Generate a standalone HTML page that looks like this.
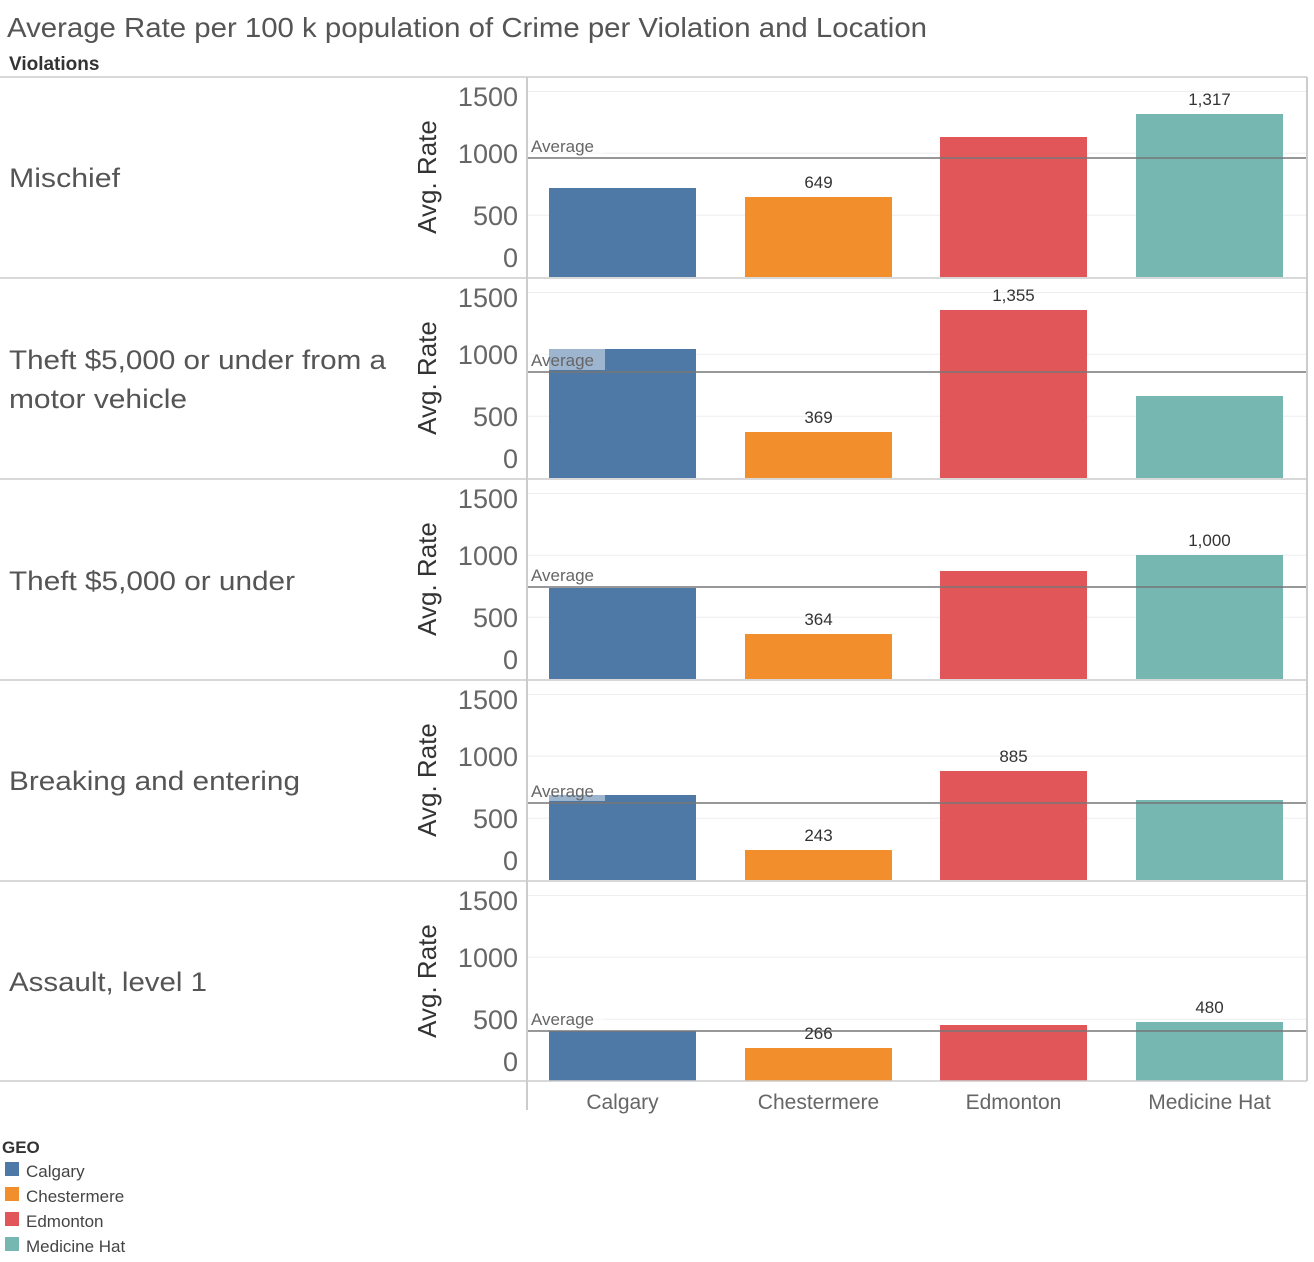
<!DOCTYPE html>
<html><head><meta charset="utf-8"><style>body{margin:0;background:#fff}svg{display:block;font-family:"Liberation Sans",sans-serif}</style></head><body>
<svg width="1314" height="1262" viewBox="0 0 1314 1262" xmlns="http://www.w3.org/2000/svg">
<defs>
<g id="grid">
<line x1="528" x2="1307" y1="138.2" y2="138.2" stroke="#eee"/>
<line x1="528" x2="1307" y1="76.3" y2="76.3" stroke="#eee"/>
<line x1="528" x2="1307" y1="14.5" y2="14.5" stroke="#eee"/>
<line x1="0" x2="1307" y1="0" y2="0" stroke="#ccc" stroke-width="1.5"/>
<g font-size="27" fill="#666" text-anchor="end">
<text x="518" y="29">1500</text><text x="518" y="86">1000</text><text x="518" y="148">500</text><text x="518" y="190">0</text>
</g>
<text transform="translate(436 100) rotate(-90)" font-size="26" fill="#333" text-anchor="middle">Avg. Rate</text>
</g>
</defs>

<text x="7" y="37" font-size="28" fill="#555" textLength="920" lengthAdjust="spacingAndGlyphs">Average Rate per 100 k population of Crime per Violation and Location</text>
<text x="9" y="70" font-size="19" font-weight="bold" fill="#333">Violations</text>

<!-- Row 1 -->
<g transform="translate(0 77)">
<use href="#grid"/>
<rect x="549" y="111" width="147" height="89" fill="#4e79a7"/>
<rect x="745" y="120" width="147" height="80" fill="#f28e2b"/>
<rect x="940" y="60" width="147" height="140" fill="#e15759"/>
<rect x="1136" y="37" width="147" height="163" fill="#76b7b2"/>
<rect x="528" y="57" width="77" height="22" fill="#fff" fill-opacity="0.45"/>
<line x1="528" x2="1307" y1="81" y2="81" stroke="#777" stroke-width="1.5"/>
<text x="531" y="75" font-size="17" fill="#666">Average</text>
<text x="818.5" y="111" font-size="17" fill="#333" text-anchor="middle">649</text>
<text x="1209.5" y="28" font-size="17" fill="#333" text-anchor="middle">1,317</text>
<text x="9" y="110" font-size="27" fill="#555" textLength="111" lengthAdjust="spacingAndGlyphs">Mischief</text>
</g>

<!-- Row 2 -->
<g transform="translate(0 278)">
<use href="#grid"/>
<rect x="549" y="71" width="147" height="129" fill="#4e79a7"/>
<rect x="745" y="154" width="147" height="46" fill="#f28e2b"/>
<rect x="940" y="32" width="147" height="168" fill="#e15759"/>
<rect x="1136" y="118" width="147" height="82" fill="#76b7b2"/>
<rect x="528" y="70" width="77" height="22" fill="#fff" fill-opacity="0.45"/>
<line x1="528" x2="1307" y1="94" y2="94" stroke="#777" stroke-width="1.5"/>
<text x="531" y="88" font-size="17" fill="#666">Average</text>
<text x="818.5" y="145" font-size="17" fill="#333" text-anchor="middle">369</text>
<text x="1013.5" y="23" font-size="17" fill="#333" text-anchor="middle">1,355</text>
<text x="9" y="91" font-size="27" fill="#555" textLength="377" lengthAdjust="spacingAndGlyphs">Theft $5,000 or under from a</text>
<text x="9" y="130" font-size="27" fill="#555" textLength="178" lengthAdjust="spacingAndGlyphs">motor vehicle</text>
</g>

<!-- Row 3 -->
<g transform="translate(0 479)">
<use href="#grid"/>
<rect x="549" y="109" width="147" height="91" fill="#4e79a7"/>
<rect x="745" y="155" width="147" height="45" fill="#f28e2b"/>
<rect x="940" y="92" width="147" height="108" fill="#e15759"/>
<rect x="1136" y="76" width="147" height="124" fill="#76b7b2"/>
<rect x="528" y="84" width="77" height="22" fill="#fff" fill-opacity="0.45"/>
<line x1="528" x2="1307" y1="108" y2="108" stroke="#777" stroke-width="1.5"/>
<text x="531" y="102" font-size="17" fill="#666">Average</text>
<text x="818.5" y="146" font-size="17" fill="#333" text-anchor="middle">364</text>
<text x="1209.5" y="67" font-size="17" fill="#333" text-anchor="middle">1,000</text>
<text x="9" y="111" font-size="27" fill="#555" textLength="286" lengthAdjust="spacingAndGlyphs">Theft $5,000 or under</text>
</g>

<!-- Row 4 -->
<g transform="translate(0 680)">
<use href="#grid"/>
<rect x="549" y="115" width="147" height="85" fill="#4e79a7"/>
<rect x="745" y="170" width="147" height="30" fill="#f28e2b"/>
<rect x="940" y="91" width="147" height="109" fill="#e15759"/>
<rect x="1136" y="120" width="147" height="80" fill="#76b7b2"/>
<rect x="528" y="99" width="77" height="22" fill="#fff" fill-opacity="0.45"/>
<line x1="528" x2="1307" y1="123" y2="123" stroke="#777" stroke-width="1.5"/>
<text x="531" y="117" font-size="17" fill="#666">Average</text>
<text x="818.5" y="161" font-size="17" fill="#333" text-anchor="middle">243</text>
<text x="1013.5" y="82" font-size="17" fill="#333" text-anchor="middle">885</text>
<text x="9" y="110" font-size="27" fill="#555" textLength="291" lengthAdjust="spacingAndGlyphs">Breaking and entering</text>
</g>

<!-- Row 5 -->
<g transform="translate(0 881)">
<use href="#grid"/>
<rect x="549" y="150" width="147" height="50" fill="#4e79a7"/>
<rect x="745" y="167" width="147" height="33" fill="#f28e2b"/>
<rect x="940" y="144" width="147" height="56" fill="#e15759"/>
<rect x="1136" y="141" width="147" height="59" fill="#76b7b2"/>
<rect x="528" y="126" width="77" height="22" fill="#fff" fill-opacity="0.45"/>
<line x1="528" x2="1307" y1="150" y2="150" stroke="#777" stroke-width="1.5"/>
<text x="531" y="144" font-size="17" fill="#666">Average</text>
<text x="818.5" y="158" font-size="17" fill="#333" text-anchor="middle">266</text>
<text x="1209.5" y="132" font-size="17" fill="#333" text-anchor="middle">480</text>
<text x="9" y="110" font-size="27" fill="#555" textLength="198" lengthAdjust="spacingAndGlyphs">Assault, level 1</text>
</g>

<line x1="0" x2="1307" y1="1081" y2="1081" stroke="#ccc" stroke-width="1.5"/>
<line x1="527" x2="527" y1="77" y2="1110" stroke="#ccc" stroke-width="2"/>
<line x1="1307" x2="1307" y1="77" y2="1081" stroke="#ccc" stroke-width="2"/>

<g font-size="21" fill="#666" text-anchor="middle">
<text x="622.5" y="1109">Calgary</text>
<text x="818.5" y="1109">Chestermere</text>
<text x="1013.5" y="1109">Edmonton</text>
<text x="1209.5" y="1109">Medicine Hat</text>
</g>

<text x="2" y="1153" font-size="17" font-weight="bold" fill="#333">GEO</text>
<rect x="5" y="1162" width="14" height="14" fill="#4e79a7"/>
<rect x="5" y="1187" width="14" height="14" fill="#f28e2b"/>
<rect x="5" y="1212" width="14" height="14" fill="#e15759"/>
<rect x="5" y="1237" width="14" height="14" fill="#76b7b2"/>
<g font-size="17" fill="#444">
<text x="26" y="1177">Calgary</text>
<text x="26" y="1202">Chestermere</text>
<text x="26" y="1227">Edmonton</text>
<text x="26" y="1252">Medicine Hat</text>
</g>
</svg>
</body></html>
